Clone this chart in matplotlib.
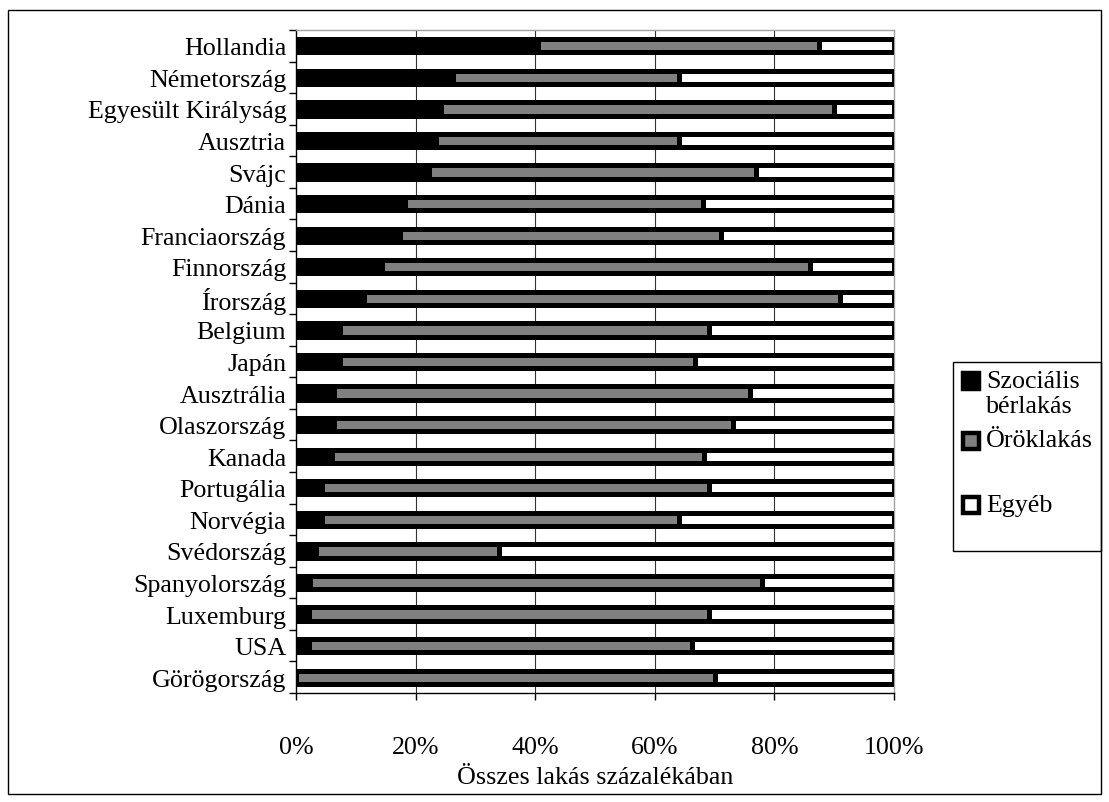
import numpy as np
import matplotlib.pyplot as plt
from matplotlib.patches import Rectangle

plt.rcParams['font.family'] = ['Liberation Serif', 'DejaVu Serif']

# Data (percent of all dwellings), top to bottom as in the chart
countries = ['Hollandia', 'Németország', 'Egyesült Királyság', 'Ausztria', 'Svájc',
             'Dánia', 'Franciaország', 'Finnország', 'Írország', 'Belgium', 'Japán',
             'Ausztrália', 'Olaszország', 'Kanada', 'Portugália', 'Norvégia',
             'Svédország', 'Spanyolország', 'Luxemburg', 'USA', 'Görögország']
social = [40.5, 26.3, 24.2, 23.4, 22.3, 18.3, 17.4, 14.3, 11.4, 7.4, 7.4,
          6.4, 6.4, 6.0, 4.4, 4.4, 3.3, 2.3, 2.2, 2.2, 0.0]
owner = [47.0, 37.7, 65.8, 40.6, 54.7, 49.7, 53.6, 71.7, 79.6, 61.6, 59.4,
         69.6, 66.6, 62.3, 64.6, 59.6, 30.7, 75.7, 66.8, 64.1, 70.0]
other = [12.5, 36.0, 10.0, 36.0, 23.0, 32.0, 29.0, 14.0, 9.0, 31.0, 33.2,
         24.0, 27.0, 31.7, 31.0, 36.0, 66.0, 22.0, 31.0, 33.7, 30.0]
series_labels = ['Szociális\nbérlakás', 'Öröklakás', 'Egyéb']
series_colors = ['black', '#808080', 'white']
xticks = [0, 20, 40, 60, 80, 100]

FS = 18.7

fig = plt.figure(figsize=(11.09, 8.03), dpi=100)
ax = fig.add_axes([0.2669, 0.1357, 0.5392, 0.8257])

y = np.arange(len(countries))[::-1]
left = np.zeros(len(countries))
lw = 3.6
h = 0.42
for vals, col in zip([social, owner, other], series_colors):
    vals = np.array(vals)
    ax.barh(y, vals, left=left, height=h, color=col, edgecolor='black',
            linewidth=lw, zorder=3)
    left += vals

ax.set_xlim(0, 100)
ax.set_ylim(-0.5, len(countries) - 0.5)
ax.set_yticks(y)
ax.set_yticklabels(countries, fontsize=FS)
ax.set_yticks(np.arange(len(countries) + 1) - 0.5, minor=True)
ax.tick_params(axis='y', which='major', length=0, pad=7)
ax.tick_params(axis='y', which='minor', length=5, width=1, direction='out')
ax.set_xticks(xticks)
ax.set_xticklabels([f'{v}%' for v in xticks], fontsize=FS)
ax.tick_params(axis='x', length=5, width=1, direction='out', pad=26)
ax.set_xlabel('Összes lakás százalékában', fontsize=FS, labelpad=6)

for v in xticks[1:-1]:
    ax.axvline(v, color='#333333', lw=0.8, zorder=1)

ax.spines['left'].set_color('black')
ax.spines['bottom'].set_color('black')
ax.spines['top'].set_color('#a0a0a0')
ax.spines['right'].set_color('#a0a0a0')
for s in ax.spines.values():
    s.set_linewidth(1)

# legend drawn by hand to follow the original layout
W, H = 1109, 803
def fx(px):
    return px / W
def fy(py):
    return 1 - py / H

fig.patches.append(Rectangle((fx(953), fy(552)), fx(1101) - fx(953), fy(363) - fy(552),
                             transform=fig.transFigure, fill=False, ec='black', lw=1))
leg_rows = [382, 442, 506]
text_rows = [394.5, 441, 506]
for lab, col, yy, ty in zip(series_labels, series_colors, leg_rows, text_rows):
    fig.patches.append(Rectangle((fx(963), fy(yy + 8)), fx(16), 16 / H,
                                 transform=fig.transFigure, fc=col, ec='black', lw=3.2))
    fig.text(fx(986), fy(ty), lab, fontsize=FS, va='center', ha='left',
             linespacing=1.15)

# outer frame
fig.patches.append(Rectangle((fx(8), fy(795)), fx(1093), 784 / H,
                             transform=fig.transFigure, fill=False, ec='black', lw=1))

fig.savefig('out.png', dpi=100)
